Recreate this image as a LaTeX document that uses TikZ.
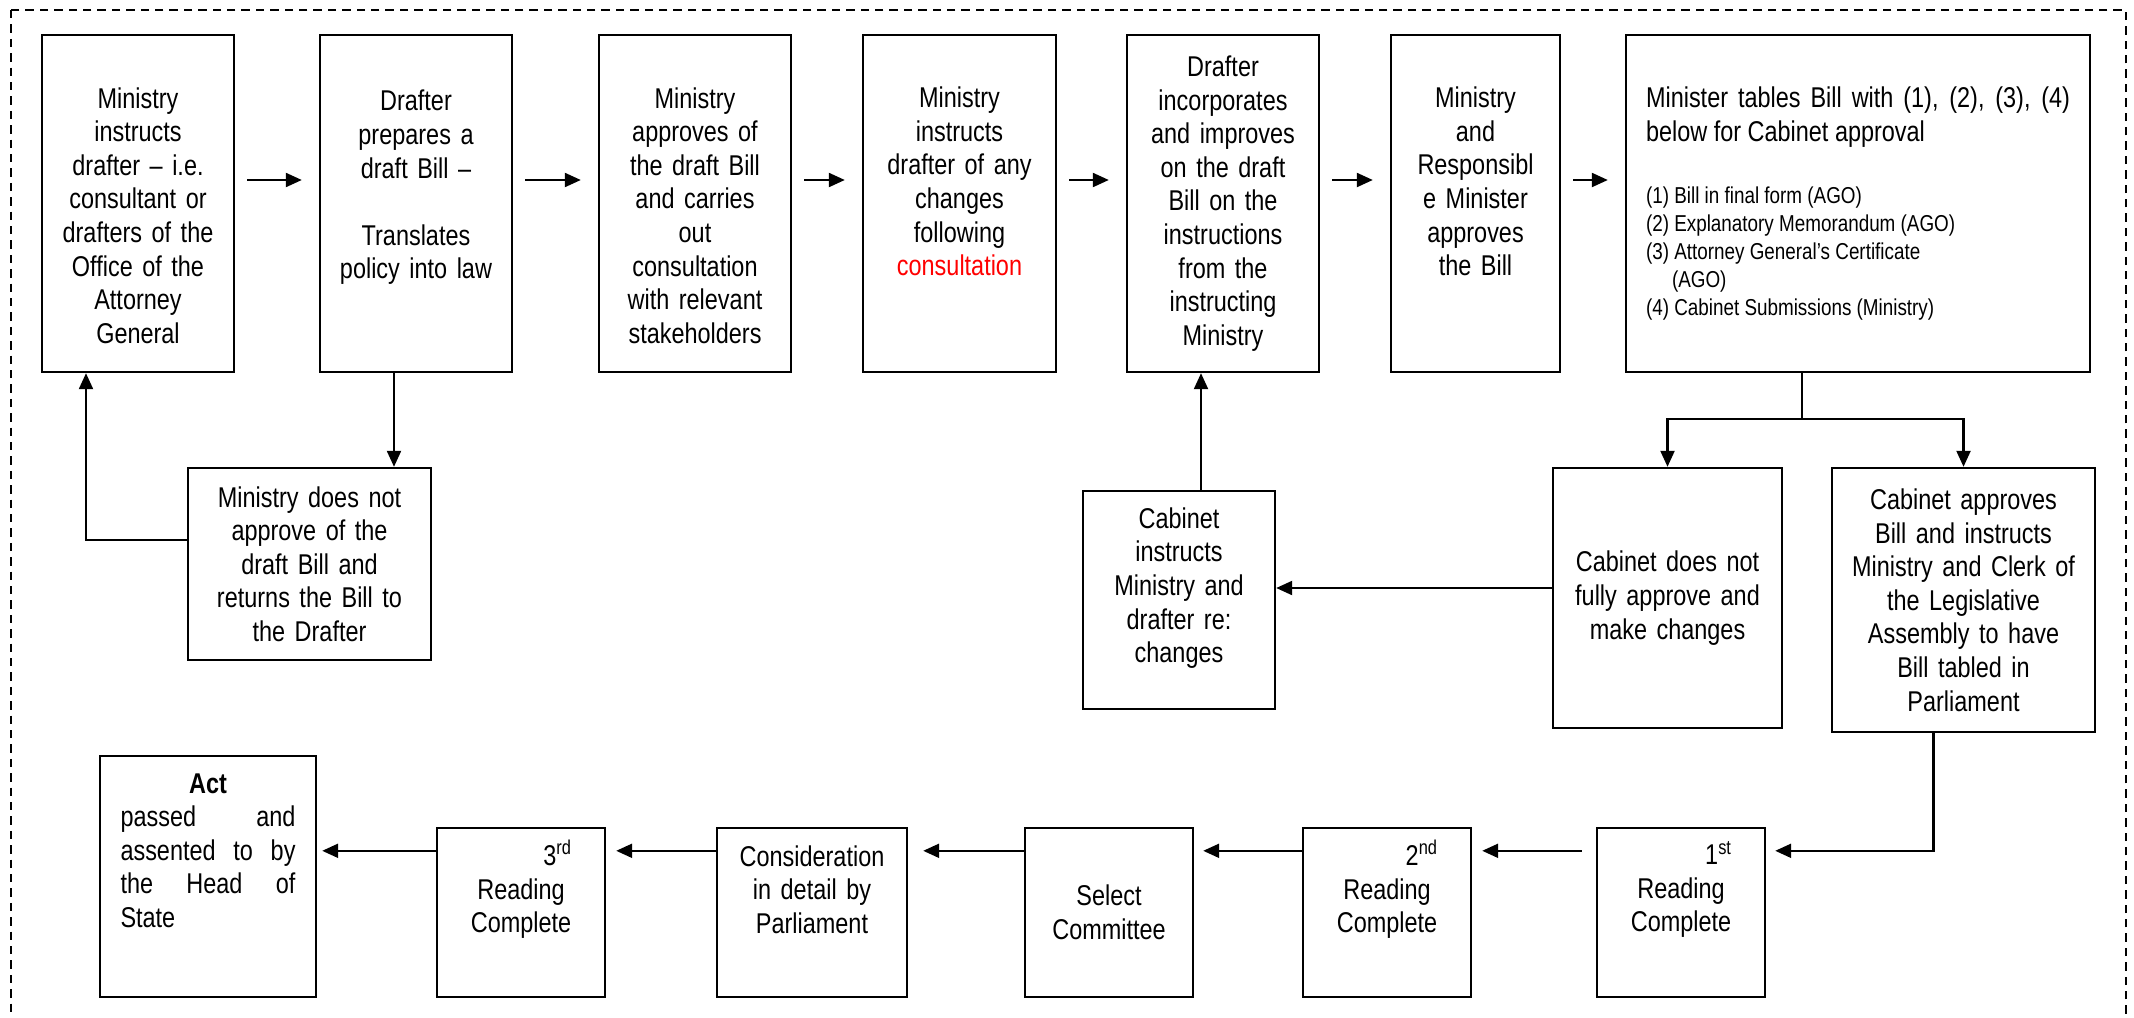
\documentclass[tikz,border=0pt]{standalone}
\usepackage{fontspec}
\setmainfont{Liberation Sans}[FakeStretch=0.82]
\usetikzlibrary{arrows.meta}

\begin{document}
\begin{tikzpicture}[x=0.5pt,y=-0.5pt,
	box/.style={draw,line width=1.2pt,inner sep=0pt,align=center,font=\fontsize{14.3}{16.8}\selectfont},
	lift/.style={execute at end node={\endgraf\vspace*{#1}}},
	arr/.style={line width=1.1pt,-{Triangle[length=8pt,width=7pt]}}]
	\useasboundingbox (0,0) rectangle (2134,1017);
	\begin{scope}
		\clip (0,0) rectangle (2134,1017);
		\draw[line width=1.3pt,dash pattern=on 4.2pt off 3pt] (11,10) rectangle (2126,1060);
	\end{scope}
	% top row
	\node[box,text width=96pt,minimum height=168.5pt,lift=-12pt] (instr) at (138,203.5) {Ministry\\ instructs\\ drafter -- i.e.\\ consultant or\\ drafters of the\\ Office of the\\ Attorney\\ General};
	\node[box,text width=96pt,minimum height=168.5pt,lift=16pt] (prep) at (416,203.5) {Drafter\\ prepares a\\ draft Bill --\\[16.8pt] Translates\\ policy into law};
	\node[box,text width=96pt,minimum height=168.5pt,lift=-12pt] (consult) at (695,203.5) {Ministry\\ approves of\\ the draft Bill\\ and carries\\ out\\ consultation\\ with relevant\\ stakeholders};
	\node[box,text width=96.5pt,minimum height=168.5pt,lift=22pt] (changes) at (959.5,203.5) {Ministry\\ instructs\\ drafter of any\\ changes\\ following\\ \textcolor{red}{consultation}};
	\node[box,text width=96pt,minimum height=168.5pt] (incorp) at (1223,203.5) {Drafter\\ incorporates\\ and improves\\ on the draft\\ Bill on the\\ instructions\\ from the\\ instructing\\ Ministry};
	\node[box,text width=84.5pt,minimum height=168.5pt,lift=22pt] (respmin) at (1475.5,203.5) {Ministry\\ and\\ Responsibl\\ e Minister\\ approves\\ the Bill};
	\node[box,align=justify,text width=212pt,inner xsep=10pt,minimum height=168.5pt] (tables) at (1858,203.5) {Minister tables Bill with (1), (2), (3), (4)\linebreak below for Cabinet approval\endgraf\vspace{17pt}
		{\fontsize{11.5}{14}\selectfont (1) Bill in final form (AGO)\\ (2) Explanatory Memorandum (AGO)\\ (3) Attorney General’s Certificate\\ \hspace*{13pt}(AGO)\\ (4) Cabinet Submissions (Ministry)\endgraf}};
	% middle row
	\node[box,text width=121.5pt,minimum height=96pt] (reject) at (309.5,564) {Ministry does not\\ approve of the\\ draft Bill and\\ returns the Bill to\\ the Drafter};
	\node[box,text width=96pt,minimum height=109pt,lift=12pt] (cabinst) at (1179,600) {Cabinet\\ instructs\\ Ministry and\\ drafter re:\\ changes};
	\node[box,text width=114.5pt,minimum height=130pt] (cabnot) at (1667.5,598) {Cabinet does not\\ fully approve and\\ make changes};
	\node[box,text width=131.5pt,minimum height=132pt] (cabapp) at (1963.5,600) {Cabinet approves\\ Bill and instructs\\ Ministry and Clerk of\\ the Legislative\\ Assembly to have\\ Bill tabled in\\ Parliament};
	% bottom row
	\node[box,align=justify,text width=87.5pt,inner xsep=10.25pt,minimum height=120.5pt,lift=26pt] (act) at (208,876.5) {{\centering\bfseries Act\endgraf}passed \hfill and\\ assented \hfill to \hfill by\\ the \hfill Head \hfill of\\ State};
	\node[box,text width=51pt,minimum width=84pt,minimum height=84.5pt,lift=23pt] (third) at (521,912.5) {\hfill3\textsuperscript{rd}\\ Reading\\ Complete};
	\node[box,text width=95pt,minimum height=84.5pt,lift=23pt] (consid) at (812,912.5) {Consideration\\ in detail by\\ Parliament};
	\node[box,text width=84pt,minimum height=84.5pt] (select) at (1109,912.5) {Select\\ Committee};
	\node[box,text width=51pt,minimum width=84pt,minimum height=84.5pt,lift=23pt] (second) at (1387,912.5) {\hfill2\textsuperscript{nd}\\ Reading\\ Complete};
	\node[box,text width=51pt,minimum width=84pt,minimum height=84.5pt,lift=23pt] (first) at (1681,912.5) {\hfill1\textsuperscript{st}\\ Reading\\ Complete};
	\coordinate (split) at (1802,419);

	\draw[arr,shorten <=6pt,shorten >=8.5pt] ([yshift=11.75pt]instr.east) -- ([yshift=11.75pt]prep.west);
	\draw[arr,shorten <=6pt,shorten >=8.5pt] ([yshift=11.75pt]prep.east) -- ([yshift=11.75pt]consult.west);
	\draw[arr,shorten <=6pt,shorten >=8.5pt] ([yshift=11.75pt]consult.east) -- ([yshift=11.75pt]changes.west);
	\draw[arr,shorten <=6pt,shorten >=8.5pt] ([yshift=11.75pt]changes.east) -- ([yshift=11.75pt]incorp.west);
	\draw[arr,shorten <=6pt,shorten >=8.5pt] ([yshift=11.75pt]incorp.east) -- ([yshift=11.75pt]respmin.west);
	\draw[arr,shorten <=6pt,shorten >=8.5pt] ([yshift=11.75pt]respmin.east) -- ([yshift=11.75pt]tables.west);
	\draw[arr] ([xshift=-11pt]prep.south) -- ([xshift=-11pt]prep.south |- reject.north);
	\draw[arr] ([yshift=12pt]reject.west) -| ([xshift=-26pt]instr.south);
	\draw[line width=1.1pt] (tables.south -| split) -- (split);
	\draw[arr] (split) -| (cabnot.north);
	\draw[arr] (split) -| (cabapp.north);
	\draw[arr] ([yshift=5pt]cabnot.west) -- ([yshift=5pt]cabnot.west -| cabinst.east);
	\draw[arr] ([xshift=11pt]cabinst.north) -- ([xshift=11pt]cabinst.north |- incorp.south);
	\draw[arr,shorten >=4.5pt] ([xshift=-15pt]cabapp.south) |- ([yshift=-12pt]first.north east);
	\draw[arr,shorten <=7pt,shorten >=5pt] ([yshift=-12pt]first.north west) -- ([yshift=-12pt]second.north east);
	\draw[arr,shorten >=4.5pt] ([yshift=-12pt]second.north west) -- ([yshift=-12pt]select.north east);
	\draw[arr,shorten >=7.5pt] ([yshift=-12pt]select.north west) -- ([yshift=-12pt]consid.north east);
	\draw[arr,shorten >=5pt] ([yshift=-12pt]consid.north west) -- ([yshift=-12pt]third.north east);
	\draw[arr,shorten >=2.5pt] ([yshift=-12pt]third.north west) -- ([yshift=-12pt]third.north west -| act.east);
\end{tikzpicture}
\end{document}
